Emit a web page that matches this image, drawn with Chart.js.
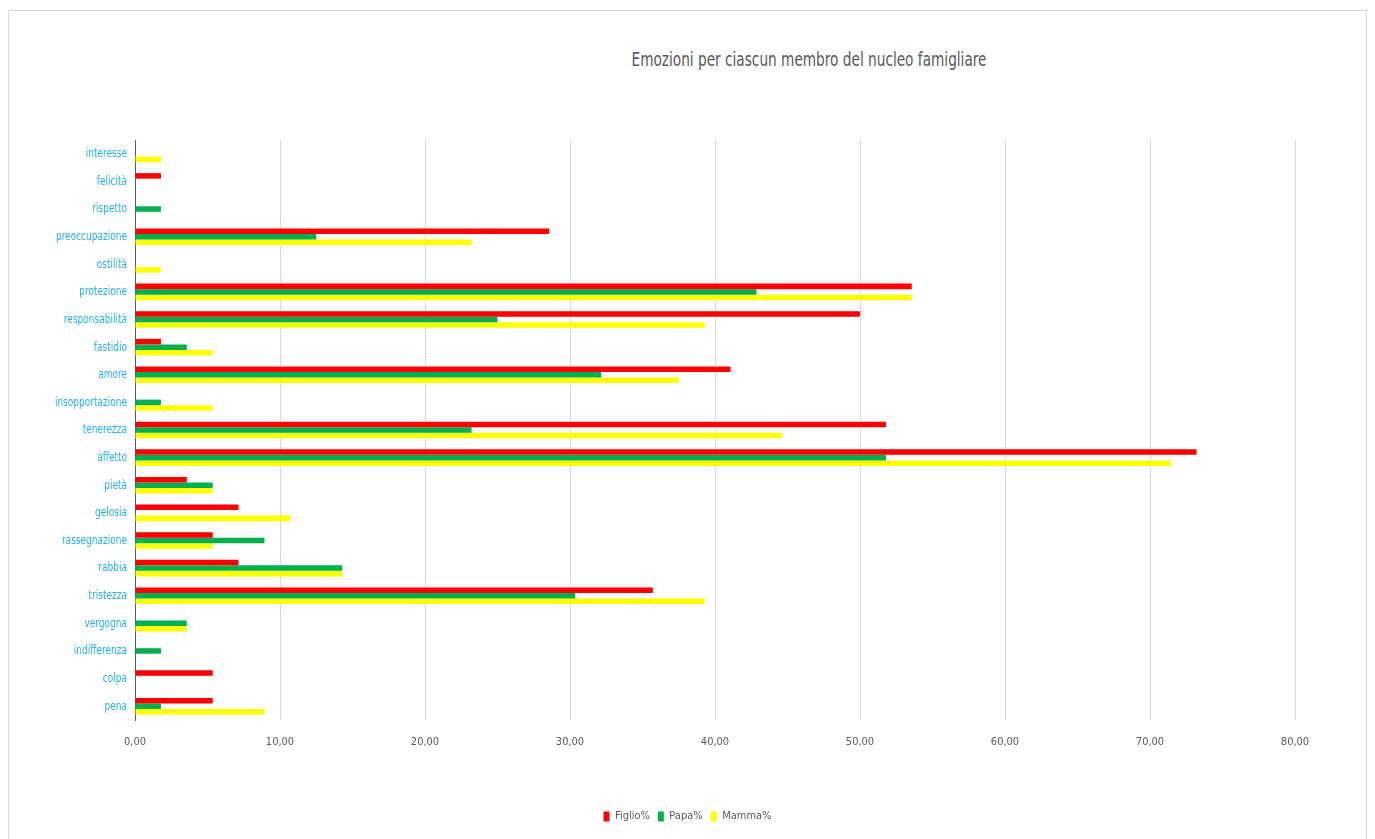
<!DOCTYPE html>
<html>
<head>
<meta charset="utf-8">
<script src="https://cdn.jsdelivr.net/npm/chart.js@4/dist/chart.umd.min.js"></script>
<style>
  html, body { margin: 0; padding: 0; background: #fff; }
  #wrap { position: relative; width: 1375px; height: 839px; overflow: hidden; }
  #frame { position: absolute; left: 8px; top: 10px; width: 1359px; height: 840px; border: 1px solid #d9d9d9; box-sizing: border-box; }
  #title { position: absolute; left: 0; width: 1618px; top: 47px; text-align: center;
           font-family: "DejaVu Sans Condensed", sans-serif;
           font-size: 20px; color: #595959; transform: scaleX(0.76); transform-origin: 809px 0; }
  canvas { position: absolute; left: 0; top: 0; }
</style>
</head>
<body>
<div id="wrap">
  <div id="frame"></div>
  <div id="title">Emozioni per ciascun membro del nucleo famigliare</div>
  <canvas id="c" width="1375" height="839"></canvas>
</div>
<script>
// Emotions, listed top to bottom
const categories = [
  "interesse", "felicità", "rispetto", "preoccupazione", "ostilità", "protezione",
  "responsabilità", "fastidio", "amore", "insopportazione", "tenerezza", "affetto",
  "pietà", "gelosia", "rassegnazione", "rabbia", "tristezza", "vergogna",
  "indifferenza", "colpa", "pena"
];

// Percentages per family member (0 where no bar)
const figlio = [0, 1.79, 0, 28.57, 0, 53.57, 50.00, 1.79, 41.07, 0, 51.79, 73.21,
                3.57, 7.14, 5.36, 7.14, 35.71, 0, 0, 5.36, 5.36];
const papa   = [0, 0, 1.79, 12.50, 0, 42.86, 25.00, 3.57, 32.14, 1.79, 23.21, 51.79,
                5.36, 0, 8.93, 14.29, 30.36, 3.57, 1.79, 0, 1.79];
const mamma  = [1.79, 0, 0, 23.21, 1.79, 53.57, 39.29, 5.36, 37.50, 5.36, 44.64, 71.43,
                5.36, 10.71, 5.36, 14.29, 39.29, 3.57, 0, 0, 8.93];

const seriesNames = ["Figlio%", "Papa%", "Mamma%"];
const seriesColors = ["#ff0000", "#00b050", "#ffff00"];

const narrow = '"DejaVu Sans Condensed", sans-serif';

// Category labels drawn horizontally compressed, right-aligned next to the axis
const narrowYLabels = {
  id: "narrowYLabels",
  afterDraw(chart) {
    const s = chart.scales.y;
    const ctx = chart.ctx;
    ctx.save();
    ctx.font = "13px " + narrow;
    ctx.fillStyle = "#21b1ee";
    ctx.textAlign = "right";
    ctx.textBaseline = "middle";
    s.ticks.forEach((t, i) => {
      const y = s.getPixelForTick(i);
      ctx.save();
      ctx.translate(s.right - 8, y);
      ctx.scale(0.77, 1);
      ctx.fillText(s.getLabelForValue(t.value), 0, 0);
      ctx.restore();
    });
    ctx.restore();
  }
};

new Chart(document.getElementById("c"), {
  type: "bar",
  data: {
    labels: categories,
    datasets: [figlio, papa, mamma].map((vals, i) => ({
      label: seriesNames[i],
      data: vals,
      backgroundColor: seriesColors[i],
      borderWidth: 0,
      barPercentage: 1.0,
      categoryPercentage: 0.6
    }))
  },
  options: {
    indexAxis: "y",
    responsive: false,
    animation: false,
    layout: { padding: { left: 0, right: 0, top: 140, bottom: 7 } },
    scales: {
      x: {
        min: 0,
        max: 80,
        ticks: {
          stepSize: 10,
          color: "#595959",
          font: { family: narrow, size: 11 },
          padding: 16,
          callback: (v) => Number(v).toFixed(2).replace(".", ",")
        },
        grid: { color: "#d9d9d9", drawTicks: false },
        border: { display: false },
        afterFit: (s) => { s.height = 83; }
      },
      y: {
        ticks: { color: "rgba(0,0,0,0)", font: { family: narrow, size: 13 }, autoSkip: false },
        grid: { display: false, drawTicks: false },
        border: { display: true, color: "#595959", width: 1 },
        afterFit: (s) => { s.width = 135; }
      },
      // empty spacer on the right so the plot ends short of the frame
      yRight: {
        type: "category",
        position: "right",
        labels: categories,
        ticks: { display: false },
        grid: { display: false, drawTicks: false },
        border: { display: false },
        afterFit: (s) => { s.width = 80; }
      }
    },
    plugins: {
      legend: {
        position: "bottom",
        labels: {
          boxWidth: 6,
          boxHeight: 10,
          padding: 8,
          color: "#595959",
          font: { family: narrow, size: 11 }
        }
      },
      tooltip: { enabled: false }
    }
  },
  plugins: [narrowYLabels]
});
</script>
</body>
</html>
